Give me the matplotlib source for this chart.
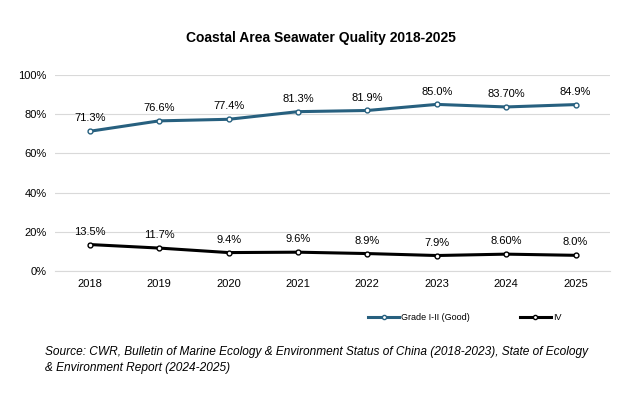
import matplotlib.pyplot as plt

years = ["2018", "2019", "2020", "2021", "2022", "2023", "2024", "2025"]
good = [71.3, 76.6, 77.4, 81.3, 81.9, 85.0, 83.7, 84.9]
good_labels = ["71.3%", "76.6%", "77.4%", "81.3%", "81.9%", "85.0%", "83.70%", "84.9%"]
grade4 = [13.5, 11.7, 9.4, 9.6, 8.9, 7.9, 8.6, 8.0]
grade4_labels = ["13.5%", "11.7%", "9.4%", "9.6%", "8.9%", "7.9%", "8.60%", "8.0%"]

plt.rcParams['font.family'] = ['Liberation Sans', 'DejaVu Sans']
fig = plt.figure(figsize=(6.41, 4.0), dpi=100)
ax = fig.add_axes([0.086, 0.3225, 0.866, 0.49])

x = range(len(years))
ax.plot(x, good, color="#27607F", lw=2.2, marker="o", ms=3.5, mfc="white", mec="#27607F", mew=1)
ax.plot(x, grade4, color="black", lw=2.2, marker="o", ms=3.5, mfc="white", mec="black", mew=1)
for i in x:
    ax.text(i, good[i] + 4, good_labels[i], ha="center", va="bottom", fontsize=8)
    ax.text(i, grade4[i] + 4, grade4_labels[i], ha="center", va="bottom", fontsize=8)

ax.set_xlim(-0.5, len(years) - 0.5)
ax.set_ylim(0, 100)
ax.set_yticks(range(0, 101, 20))
ax.set_yticklabels([f"{v}%" for v in range(0, 101, 20)], fontsize=8)
ax.set_xticks(list(x))
ax.set_xticklabels(years, fontsize=8)
ax.yaxis.grid(True, color="#D9D9D9", lw=0.8)
ax.set_axisbelow(True)
for s in ["top", "right", "left"]:
    ax.spines[s].set_visible(False)
ax.spines["bottom"].set_color("#D9D9D9")
ax.tick_params(length=0, pad=6)

fig.text(0.5, 0.895, "Coastal Area Seawater Quality 2018-2025", ha="center", fontsize=10, fontweight="bold")

h1, = ax.plot([], [], color="#27607F", lw=2.2, marker="o", ms=3, mfc="white", mec="#27607F")
h2, = ax.plot([], [], color="black", lw=2.2, marker="o", ms=3, mfc="white", mec="black")
fig.legend([h1, h2], ["Grade I-II (Good)", "IV"], loc="center", bbox_to_anchor=(0.725, 0.205),
           ncol=2, frameon=False, fontsize=6.5, columnspacing=5.5, handlelength=3.5, handletextpad=0.2)

fig.text(0.07, 0.1, "Source: CWR, Bulletin of Marine Ecology & Environment Status of China (2018-2023), State of Ecology\n& Environment Report (2024-2025)",
         ha="left", va="center", fontsize=8.6, style="italic", linespacing=1.35)

fig.savefig("out.png", dpi=100)
